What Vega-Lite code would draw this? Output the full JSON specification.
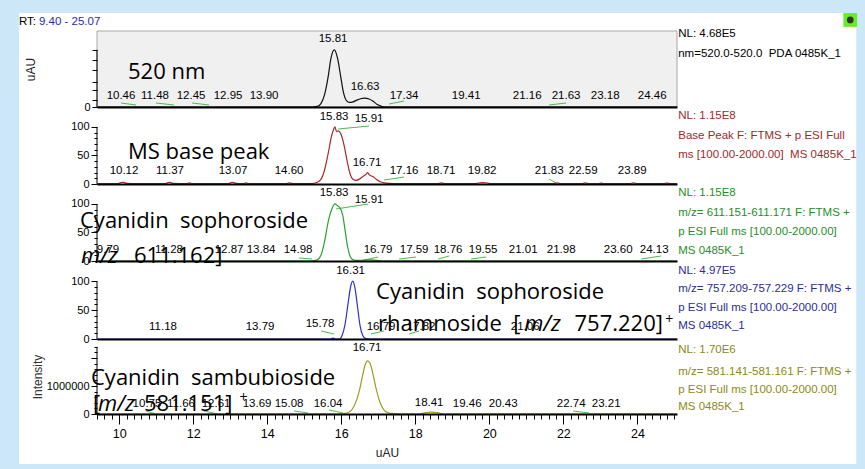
{
"$schema": "https://vega.github.io/schema/vega-lite/v6.json",
"background": "#cce8f8",
"padding": {"left": 18, "top": 12, "right": 30, "bottom": 30},
"spacing": 0,
"bounds": "flush",
"config": {
 "view": {"stroke": null},
 "axis": {"labelFont": "Liberation Sans, Arial, sans-serif", "labelFontSize": 11, "labelColor": "#000", "tickColor": "#000", "titleFont": "Liberation Sans, Arial, sans-serif", "titleFontSize": 12, "titleFontWeight": "normal", "titleColor": "#222", "grid": false, "domain": false, "labelOverlap": false, "zindex": 1, "labelPadding": 2},
 "style": {
  "pk": {"font": "Liberation Sans, Arial, sans-serif", "fontSize": 11.5, "align": "center", "baseline": "middle"},
  "side": {"font": "Liberation Sans, Arial, sans-serif", "fontSize": 11.5, "align": "left", "baseline": "middle"},
  "big": {"font": "Open Sans", "fontSize": 22, "align": "left", "baseline": "alphabetic"},
  "bigi": {"font": "Open Sans", "fontSize": 22, "fontStyle": "italic", "align": "left", "baseline": "alphabetic"},
  "sup": {"font": "Open Sans", "fontSize": 14, "align": "center", "baseline": "middle"}
 }
},
"vconcat": [
 {
  "width": 580, "height": 76,
  "encoding": {
   "x": {"field": "x", "type": "quantitative", "scale": {"domain": [9.4, 25.07], "nice": false, "zero": false}, "axis": {"labels": false, "ticks": false, "domain": true, "domainColor": "#000", "domainWidth": 2, "title": null, "zindex": 2}},
   "y": {"field": "y", "type": "quantitative", "scale": {"domain": [0, 133], "nice": false, "zero": false}, "axis": {"values": [0, 12, 30, 44, 65, 82, 100], "labelExpr": "datum.value === 0 ? '0' : ''", "tickSize": 5, "title": "uAU", "titlePadding": 46, "zindex": 2}}
  },
  "layer": [
   {"data": {"values": [{"x": 7.292, "y": 164.5, "x2": 29.913, "y2": -624.8}]}, "mark": {"type": "rect", "fill": "#ffffff"}, "encoding": {"x2": {"field": "x2"}, "y2": {"field": "y2"}}},
   {"data": {"values": [{"x": 9.4, "y": 0, "x2": 25.07, "y2": 133}]}, "mark": {"type": "rect", "fill": "#f0f0f0", "stroke": "#a8a8a8", "strokeWidth": 1}, "encoding": {"x2": {"field": "x2"}, "y2": {"field": "y2"}}},
   {"data": {"values": [{"x": 9.4, "y": 0, "y2": 100}]}, "mark": {"type": "rule", "color": "#000"}, "encoding": {"y2": {"field": "y2"}}},
   {"data": {"values": [
     {"x": 10.049, "y": 7.0, "x2": 10.454, "y2": 3.5},
     {"x": 10.995, "y": 7.0, "x2": 11.481, "y2": 3.5},
     {"x": 11.968, "y": 7.0, "x2": 12.427, "y2": 3.5},
     {"x": 17.292, "y": 5.25, "x2": 17.697, "y2": 10.5},
     {"x": 21.616, "y": 3.5, "x2": 22.076, "y2": 7.0}]},
    "mark": {"type": "rule", "color": "#4cbb4c", "strokeWidth": 1}, "encoding": {"x2": {"field": "x2"}, "y2": {"field": "y2"}}},
   {"data": {"values": [
     {"x": 9.4, "y": 0}, {"x": 15.2, "y": 0}, {"x": 15.35, "y": 1}, {"x": 15.45, "y": 6}, {"x": 15.55, "y": 22}, {"x": 15.65, "y": 55}, {"x": 15.72, "y": 85}, {"x": 15.81, "y": 100}, {"x": 15.9, "y": 85}, {"x": 15.98, "y": 55}, {"x": 16.06, "y": 25}, {"x": 16.14, "y": 11}, {"x": 16.22, "y": 8}, {"x": 16.32, "y": 9}, {"x": 16.42, "y": 12}, {"x": 16.52, "y": 14.5}, {"x": 16.63, "y": 15.5}, {"x": 16.75, "y": 14}, {"x": 16.86, "y": 10}, {"x": 16.96, "y": 5}, {"x": 17.06, "y": 2}, {"x": 17.16, "y": 0}, {"x": 25.07, "y": 0}]},
    "mark": {"type": "line", "color": "#111111", "strokeWidth": 1.2, "interpolate": "monotone"}, "encoding": {}},
   {"data": {"values": [
     {"x": 10.049, "y": 20, "t": "10.46"}, {"x": 10.968, "y": 20, "t": "11.48"}, {"x": 11.941, "y": 20, "t": "12.45"}, {"x": 12.941, "y": 20, "t": "12.95"}, {"x": 13.914, "y": 20, "t": "13.90"}, {"x": 15.778, "y": 119, "t": "15.81"}, {"x": 16.643, "y": 35, "t": "16.63"}, {"x": 17.697, "y": 20, "t": "17.34"}, {"x": 19.373, "y": 20, "t": "19.41"}, {"x": 21.022, "y": 20, "t": "21.16"}, {"x": 22.073, "y": 20, "t": "21.63"}, {"x": 23.13, "y": 20, "t": "23.18"}, {"x": 24.4, "y": 20, "t": "24.46"}]},
    "mark": {"type": "text", "style": "pk", "fill": "#000"}, "encoding": {"text": {"field": "t"}}},
   {"data": {"values": [
     {"x": 25.103, "y": 127.8, "t": "NL: 4.68E5"}, {"x": 25.103, "y": 92.75, "t": "nm=520.0-520.0\u00a0 PDA 0485K_1"}]},
    "mark": {"type": "text", "style": "side", "fill": "#000"}, "encoding": {"text": {"field": "t"}}},
   {"data": {"values": [{"x": 10.238, "y": 49, "t": "520 nm"}]}, "mark": {"type": "text", "style": "big", "fill": "#000"}, "encoding": {"text": {"field": "t"}}},
   {"data": {"values": [{"x": 7.292, "y": 148.8, "t": "RT:"}]}, "mark": {"type": "text", "style": "side", "fontSize": 11.5, "fill": "#000"}, "encoding": {"text": {"field": "t"}}},
   {"data": {"values": [{"x": 7.832, "y": 148.8, "t": "9.40 - 25.07"}]}, "mark": {"type": "text", "style": "side", "fontSize": 11.5, "fill": "#2a2ab0"}, "encoding": {"text": {"field": "t"}}},
   {"data": {"values": [{"x": 29.751, "y": 152.3}]}, "mark": {"type": "square", "size": 190, "color": "#66ee22", "filled": true, "opacity": 1}, "encoding": {}},
   {"data": {"values": [{"x": 29.751, "y": 152.3}]}, "mark": {"type": "circle", "size": 45, "color": "#333333", "opacity": 1}, "encoding": {}}
  ]
 },
 {
  "width": 580, "height": 77,
  "encoding": {
   "x": {"field": "x", "type": "quantitative", "scale": {"domain": [9.4, 25.07], "nice": false, "zero": false}, "axis": {"labels": false, "ticks": false, "domain": true, "domainColor": "#000", "domainWidth": 2, "title": null, "zindex": 2}},
   "y": {"field": "y", "type": "quantitative", "scale": {"domain": [0, 135], "nice": false, "zero": false}, "axis": {"values": [0, 10, 20, 30, 40, 50, 60, 70, 80, 90, 100], "labelExpr": "datum.value % 50 === 0 ? datum.label : ''", "tickSize": {"condition": {"test": "datum.value % 50 === 0", "value": 6}, "value": 3}, "title": null, "zindex": 2}}
  },
  "layer": [
   {"data": {"values": [{"x": 9.4, "y": 0, "y2": 100}]}, "mark": {"type": "rule", "color": "#000"}, "encoding": {"y2": {"field": "y2"}}},
   {"data": {"values": [
     {"x": 15.914, "y": 96.4, "x2": 16.751, "y2": 101.7},
     {"x": 17.157, "y": 7.0, "x2": 17.697, "y2": 12.3},
     {"x": 21.616, "y": 8.8, "x2": 21.805, "y2": 1.75}]},
    "mark": {"type": "rule", "color": "#4cbb4c", "strokeWidth": 1}, "encoding": {"x2": {"field": "x2"}, "y2": {"field": "y2"}}},
   {"data": {"values": [
     {"x": 9.4, "y": 0.5}, {"x": 9.95, "y": 0.5}, {"x": 10.05, "y": 2.5}, {"x": 10.12, "y": 3}, {"x": 10.2, "y": 1}, {"x": 10.5, "y": 0.5}, {"x": 11.25, "y": 0.5}, {"x": 11.32, "y": 2.5}, {"x": 11.37, "y": 3}, {"x": 11.45, "y": 1}, {"x": 11.82, "y": 0.5}, {"x": 11.9, "y": 1.8}, {"x": 11.97, "y": 0.5}, {"x": 12.95, "y": 0.5}, {"x": 13.02, "y": 2.5}, {"x": 13.07, "y": 3}, {"x": 13.15, "y": 1}, {"x": 13.35, "y": 0.5}, {"x": 13.42, "y": 1.8}, {"x": 13.5, "y": 0.5}, {"x": 14.5, "y": 0.5}, {"x": 14.6, "y": 1.8}, {"x": 14.7, "y": 0.5}, {"x": 15.2, "y": 0.5}, {"x": 15.35, "y": 3}, {"x": 15.45, "y": 8}, {"x": 15.55, "y": 25}, {"x": 15.65, "y": 55}, {"x": 15.74, "y": 85}, {"x": 15.8, "y": 97}, {"x": 15.83, "y": 100}, {"x": 15.87, "y": 92}, {"x": 15.91, "y": 93}, {"x": 15.97, "y": 90}, {"x": 16.03, "y": 80}, {"x": 16.1, "y": 60}, {"x": 16.17, "y": 36}, {"x": 16.24, "y": 17}, {"x": 16.32, "y": 8}, {"x": 16.4, "y": 6.5}, {"x": 16.5, "y": 9}, {"x": 16.6, "y": 14}, {"x": 16.67, "y": 17}, {"x": 16.71, "y": 20}, {"x": 16.76, "y": 16}, {"x": 16.85, "y": 13}, {"x": 16.95, "y": 8}, {"x": 17.05, "y": 4}, {"x": 17.16, "y": 2}, {"x": 17.3, "y": 1}, {"x": 17.5, "y": 0.5}, {"x": 18.6, "y": 0.5}, {"x": 18.71, "y": 1.8}, {"x": 18.8, "y": 0.5}, {"x": 19.6, "y": 0.5}, {"x": 19.7, "y": 1.8}, {"x": 19.82, "y": 2.5}, {"x": 19.95, "y": 1.8}, {"x": 20.05, "y": 0.5}, {"x": 21.7, "y": 0.5}, {"x": 21.83, "y": 1.8}, {"x": 21.95, "y": 0.5}, {"x": 22.5, "y": 0.5}, {"x": 22.59, "y": 1.8}, {"x": 22.7, "y": 0.5}, {"x": 22.95, "y": 0.5}, {"x": 23.02, "y": 1.5}, {"x": 23.1, "y": 0.5}, {"x": 23.8, "y": 0.5}, {"x": 23.89, "y": 2}, {"x": 24.0, "y": 0.5}, {"x": 24.7, "y": 0.5}, {"x": 24.8, "y": 1.5}, {"x": 24.9, "y": 0.5}, {"x": 25.07, "y": 0.5}]},
    "mark": {"type": "line", "color": "#a52a2a", "strokeWidth": 1.2, "interpolate": "monotone"}, "encoding": {}},
   {"data": {"values": [
     {"x": 10.13, "y": 22.8, "t": "10.12"}, {"x": 11.373, "y": 22.8, "t": "11.37"}, {"x": 13.076, "y": 22.8, "t": "13.07"}, {"x": 14.589, "y": 22.8, "t": "14.60"}, {"x": 15.805, "y": 117.5, "t": "15.83"}, {"x": 16.751, "y": 114, "t": "15.91"}, {"x": 16.697, "y": 36.8, "t": "16.71"}, {"x": 17.697, "y": 22.8, "t": "17.16"}, {"x": 18.697, "y": 22.8, "t": "18.71"}, {"x": 19.805, "y": 22.8, "t": "19.82"}, {"x": 21.616, "y": 22.8, "t": "21.83"}, {"x": 22.535, "y": 22.8, "t": "22.59"}, {"x": 23.859, "y": 23.5, "t": "23.89"}]},
    "mark": {"type": "text", "style": "pk", "fill": "#000"}, "encoding": {"text": {"field": "t"}}},
   {"data": {"values": [
     {"x": 25.103, "y": 119.2, "t": "NL: 1.15E8"}, {"x": 25.103, "y": 84.2, "t": "Base Peak F: FTMS + p ESI Full"}, {"x": 25.103, "y": 50.8, "t": "ms [100.00-2000.00]\u00a0 MS 0485K_1"}]},
    "mark": {"type": "text", "style": "side", "fill": "#a02828"}, "encoding": {"text": {"field": "t"}}},
   {"data": {"values": [{"x": 10.238, "y": 43.8, "t": "MS base peak"}]}, "mark": {"type": "text", "style": "big", "fill": "#000"}, "encoding": {"text": {"field": "t"}}}
  ]
 },
 {
  "width": 580, "height": 77,
  "encoding": {
   "x": {"field": "x", "type": "quantitative", "scale": {"domain": [9.4, 25.07], "nice": false, "zero": false}, "axis": {"labels": false, "ticks": false, "domain": true, "domainColor": "#000", "domainWidth": 2, "title": null, "zindex": 2}},
   "y": {"field": "y", "type": "quantitative", "scale": {"domain": [0, 135], "nice": false, "zero": false}, "axis": {"values": [0, 10, 20, 30, 40, 50, 60, 70, 80, 90, 100], "labelExpr": "datum.value % 50 === 0 ? datum.label : ''", "tickSize": {"condition": {"test": "datum.value % 50 === 0", "value": 6}, "value": 3}, "title": null, "zindex": 2}}
  },
  "layer": [
   {"data": {"values": [{"x": 9.4, "y": 0, "y2": 100}]}, "mark": {"type": "rule", "color": "#000"}, "encoding": {"y2": {"field": "y2"}}},
   {"data": {"values": [
     {"x": 15.859, "y": 91.2, "x2": 16.724, "y2": 99.9},
     {"x": 14.859, "y": 5.3, "x2": 15.211, "y2": 3.5},
     {"x": 16.616, "y": 1.75, "x2": 16.995, "y2": 7.0},
     {"x": 17.562, "y": 3.5, "x2": 18.022, "y2": 7.0},
     {"x": 18.616, "y": 3.5, "x2": 18.914, "y2": 8.8},
     {"x": 19.508, "y": 3.5, "x2": 19.914, "y2": 7.0},
     {"x": 24.103, "y": 3.5, "x2": 24.643, "y2": 8.8}]},
    "mark": {"type": "rule", "color": "#4cbb4c", "strokeWidth": 1}, "encoding": {"x2": {"field": "x2"}, "y2": {"field": "y2"}}},
   {"data": {"values": [
     {"x": 9.4, "y": 0}, {"x": 15.2, "y": 0}, {"x": 15.35, "y": 2}, {"x": 15.45, "y": 10}, {"x": 15.55, "y": 35}, {"x": 15.65, "y": 70}, {"x": 15.75, "y": 92}, {"x": 15.83, "y": 100}, {"x": 15.9, "y": 97}, {"x": 15.97, "y": 93}, {"x": 16.04, "y": 80}, {"x": 16.1, "y": 55}, {"x": 16.17, "y": 25}, {"x": 16.24, "y": 8}, {"x": 16.32, "y": 2}, {"x": 16.45, "y": 1}, {"x": 16.6, "y": 1.5}, {"x": 16.79, "y": 2}, {"x": 16.95, "y": 1}, {"x": 17.1, "y": 0}, {"x": 25.07, "y": 0}]},
    "mark": {"type": "line", "color": "#2ea02e", "strokeWidth": 1.2, "interpolate": "monotone"}, "encoding": {}},
   {"data": {"values": [
     {"x": 9.697, "y": 19.3, "t": "9.79"}, {"x": 11.346, "y": 19.3, "t": "11.28"}, {"x": 12.968, "y": 19.3, "t": "12.87"}, {"x": 13.832, "y": 19.3, "t": "13.84"}, {"x": 14.832, "y": 19.3, "t": "14.98"}, {"x": 15.805, "y": 119.2, "t": "15.83"}, {"x": 16.751, "y": 106.9, "t": "15.91"}, {"x": 16.995, "y": 19.3, "t": "16.79"}, {"x": 17.968, "y": 19.3, "t": "17.59"}, {"x": 18.886, "y": 19.3, "t": "18.76"}, {"x": 19.832, "y": 19.3, "t": "19.55"}, {"x": 20.914, "y": 19.3, "t": "21.01"}, {"x": 21.941, "y": 19.3, "t": "21.98"}, {"x": 23.481, "y": 19.3, "t": "23.60"}, {"x": 24.454, "y": 19.3, "t": "24.13"}]},
    "mark": {"type": "text", "style": "pk", "fill": "#000"}, "encoding": {"text": {"field": "t"}}},
   {"data": {"values": [
     {"x": 25.103, "y": 119.2, "t": "NL: 1.15E8"}, {"x": 25.103, "y": 84.2, "t": "m/z= 611.151-611.171 F: FTMS +"}, {"x": 25.103, "y": 50.8, "t": "p ESI Full ms [100.00-2000.00]"}, {"x": 25.103, "y": 17.5, "t": "MS 0485K_1"}]},
    "mark": {"type": "text", "style": "side", "fill": "#1f8f1f"}, "encoding": {"text": {"field": "t"}}},
   {"data": {"values": [{"x": 8.941, "y": 57.9, "t": "Cyanidin\u00a0 sophoroside"}, {"x": 10.4, "y": -3.0, "t": "611.162]"}]}, "mark": {"type": "text", "style": "big", "fill": "#000"}, "encoding": {"text": {"field": "t"}}},
   {"data": {"values": [{"x": 8.968, "y": -3.0, "t": "m/z"}]}, "mark": {"type": "text", "style": "bigi", "fill": "#000"}, "encoding": {"text": {"field": "t"}}}
  ]
 },
 {
  "width": 580, "height": 78,
  "encoding": {
   "x": {"field": "x", "type": "quantitative", "scale": {"domain": [9.4, 25.07], "nice": false, "zero": false}, "axis": {"labels": false, "ticks": false, "domain": true, "domainColor": "#000", "domainWidth": 2, "title": null, "zindex": 2}},
   "y": {"field": "y", "type": "quantitative", "scale": {"domain": [0, 135], "nice": false, "zero": false}, "axis": {"values": [0, 10, 20, 30, 40, 50, 60, 70, 80, 90, 100], "labelExpr": "datum.value % 50 === 0 ? datum.label : ''", "tickSize": {"condition": {"test": "datum.value % 50 === 0", "value": 6}, "value": 3}, "title": null, "zindex": 2}}
  },
  "layer": [
   {"data": {"values": [{"x": 9.4, "y": 0, "y2": 100}]}, "mark": {"type": "rule", "color": "#000"}, "encoding": {"y2": {"field": "y2"}}},
   {"data": {"values": [
     {"x": 15.454, "y": 13.8, "x2": 15.805, "y2": 8.7},
     {"x": 16.805, "y": 8.7, "x2": 17.157, "y2": 13.8},
     {"x": 17.832, "y": 8.7, "x2": 18.103, "y2": 13.8}]},
    "mark": {"type": "rule", "color": "#4cbb4c", "strokeWidth": 1}, "encoding": {"x2": {"field": "x2"}, "y2": {"field": "y2"}}},
   {"data": {"values": [
     {"x": 9.4, "y": 0}, {"x": 15.7, "y": 0}, {"x": 15.78, "y": 1.5}, {"x": 15.84, "y": 0}, {"x": 15.95, "y": 0}, {"x": 16.02, "y": 6}, {"x": 16.1, "y": 25}, {"x": 16.18, "y": 60}, {"x": 16.25, "y": 90}, {"x": 16.31, "y": 100}, {"x": 16.37, "y": 88}, {"x": 16.44, "y": 55}, {"x": 16.51, "y": 22}, {"x": 16.58, "y": 6}, {"x": 16.65, "y": 1}, {"x": 16.75, "y": 0}, {"x": 25.07, "y": 0}]},
    "mark": {"type": "line", "color": "#3030c8", "strokeWidth": 1.2, "interpolate": "monotone"}, "encoding": {}},
   {"data": {"values": [
     {"x": 11.184, "y": 20.8, "t": "11.18"}, {"x": 13.805, "y": 20.8, "t": "13.79"}, {"x": 15.427, "y": 26.0, "t": "15.78"}, {"x": 16.251, "y": 117.7, "t": "16.31"}, {"x": 17.076, "y": 20.8, "t": "16.79"}, {"x": 18.157, "y": 20.8, "t": "17.82"}, {"x": 20.968, "y": 20.8, "t": "21.06"}]},
    "mark": {"type": "text", "style": "pk", "fill": "#000"}, "encoding": {"text": {"field": "t"}}},
   {"data": {"values": [
     {"x": 25.103, "y": 117.7, "t": "NL: 4.97E5"}, {"x": 25.103, "y": 86.5, "t": "m/z= 757.209-757.229 F: FTMS +"}, {"x": 25.103, "y": 53.7, "t": "p ESI Full ms [100.00-2000.00]"}, {"x": 25.103, "y": 22.5, "t": "MS 0485K_1"}]},
    "mark": {"type": "text", "style": "side", "fill": "#2c2c96"}, "encoding": {"text": {"field": "t"}}},
   {"data": {"values": [{"x": 16.941, "y": 69.2, "t": "Cyanidin\u00a0 sophoroside"}, {"x": 16.995, "y": 13.8, "t": "rhamnoside\u00a0 ["}, {"x": 22.3, "y": 13.8, "t": "757.220]"}]}, "mark": {"type": "text", "style": "big", "fill": "#000"}, "encoding": {"text": {"field": "t"}}},
   {"data": {"values": [{"x": 20.94, "y": 13.8, "t": "m/z"}]}, "mark": {"type": "text", "style": "bigi", "fill": "#000"}, "encoding": {"text": {"field": "t"}}},
   {"data": {"values": [{"x": 24.86, "y": 33.7, "t": "+"}]}, "mark": {"type": "text", "style": "sup", "fill": "#000"}, "encoding": {"text": {"field": "t"}}}
  ]
 },
 {
  "width": 580, "height": 75,
  "encoding": {
   "x": {"field": "x", "type": "quantitative", "scale": {"domain": [9.4, 25.07], "nice": false, "zero": false}, "axis": {"tickCount": 80, "labelExpr": "abs(datum.value - round(datum.value/2)*2) < 0.01 ? '' + round(datum.value) : ''", "tickSize": {"condition": {"test": "abs(datum.value - round(datum.value/2)*2) < 0.01", "value": 10}, "value": 5}, "labelFontSize": 12.5, "labelPadding": 3, "labelFlush": false, "domain": true, "domainColor": "#000", "domainWidth": 2, "title": "uAU", "titlePadding": 8, "zindex": 2}},
   "y": {"field": "y", "type": "quantitative", "scale": {"domain": [0, 2680000], "nice": false, "zero": false}, "axis": {"values": [0, 200000, 400000, 600000, 800000, 1000000, 1200000, 1400000, 1600000, 1800000, 2000000, 2200000, 2400000], "labelExpr": "datum.value === 0 || datum.value === 1000000 ? format(datum.value, 'd') : ''", "tickSize": {"condition": {"test": "datum.value % 1000000 === 0", "value": 6}, "value": 3}, "labelFontSize": 11, "title": "Intensity", "titlePadding": 2, "titleColor": "#333", "zindex": 2}}
  },
  "layer": [
   {"data": {"values": [{"x": 9.4, "y": 0, "y2": 2400000}]}, "mark": {"type": "rule", "color": "#000"}, "encoding": {"y2": {"field": "y2"}}},
   {"data": {"values": [
     {"x": 10.724, "y": 107200, "x2": 10.995, "y2": 0},
     {"x": 12.292, "y": 107200, "x2": 12.67, "y2": 0},
     {"x": 14.724, "y": 107200, "x2": 15.103, "y2": 35700},
     {"x": 15.67, "y": 142900, "x2": 16.049, "y2": 35700},
     {"x": 22.265, "y": 107200, "x2": 22.697, "y2": 35700}]},
    "mark": {"type": "rule", "color": "#4cbb4c", "strokeWidth": 1}, "encoding": {"x2": {"field": "x2"}, "y2": {"field": "y2"}}},
   {"data": {"values": [
     {"x": 9.4, "y": 0}, {"x": 16.0, "y": 0}, {"x": 16.1, "y": 20000}, {"x": 16.2, "y": 60000}, {"x": 16.3, "y": 180000}, {"x": 16.4, "y": 450000}, {"x": 16.5, "y": 900000}, {"x": 16.58, "y": 1400000}, {"x": 16.65, "y": 1780000}, {"x": 16.71, "y": 1900000}, {"x": 16.78, "y": 1800000}, {"x": 16.86, "y": 1400000}, {"x": 16.95, "y": 850000}, {"x": 17.05, "y": 400000}, {"x": 17.15, "y": 150000}, {"x": 17.25, "y": 50000}, {"x": 17.4, "y": 10000}, {"x": 17.6, "y": 0}, {"x": 18.1, "y": 0}, {"x": 18.25, "y": 40000}, {"x": 18.41, "y": 70000}, {"x": 18.6, "y": 50000}, {"x": 18.75, "y": 0}, {"x": 25.07, "y": 0}]},
    "mark": {"type": "line", "color": "#a09a22", "strokeWidth": 1.2, "interpolate": "monotone"}, "encoding": {}},
   {"data": {"values": [
     {"x": 10.751, "y": 357300, "t": "10.75"}, {"x": 11.67, "y": 357300, "t": "11.66"}, {"x": 12.616, "y": 357300, "t": "12.61"}, {"x": 13.724, "y": 357300, "t": "13.69"}, {"x": 14.589, "y": 357300, "t": "15.08"}, {"x": 15.643, "y": 357300, "t": "16.04"}, {"x": 16.697, "y": 2358000, "t": "16.71"}, {"x": 18.373, "y": 393000, "t": "18.41"}, {"x": 19.4, "y": 357300, "t": "19.46"}, {"x": 20.373, "y": 357300, "t": "20.43"}, {"x": 22.211, "y": 357300, "t": "22.74"}, {"x": 23.157, "y": 357300, "t": "23.21"}]},
    "mark": {"type": "text", "style": "pk", "fill": "#000"}, "encoding": {"text": {"field": "t"}}},
   {"data": {"values": [
     {"x": 25.103, "y": 2286500, "t": "NL: 1.70E6"}, {"x": 25.103, "y": 1500500, "t": "m/z= 581.141-581.161 F: FTMS +"}, {"x": 25.103, "y": 857400, "t": "p ESI Full ms [100.00-2000.00]"}, {"x": 25.103, "y": 250100, "t": "MS 0485K_1"}]},
    "mark": {"type": "text", "style": "side", "fill": "#8c8a14"}, "encoding": {"text": {"field": "t"}}},
   {"data": {"values": [{"x": 9.238, "y": 1036100, "t": "Cyanidin\u00a0 sambubioside"}, {"x": 9.292, "y": 107200, "t": "["}, {"x": 10.67, "y": 107200, "t": "581.151]"}]}, "mark": {"type": "text", "style": "big", "fill": "#000"}, "encoding": {"text": {"field": "t"}}},
   {"data": {"values": [{"x": 9.427, "y": 107200, "t": "m/z"}]}, "mark": {"type": "text", "style": "bigi", "fill": "#000"}, "encoding": {"text": {"field": "t"}}},
   {"data": {"values": [{"x": 13.36, "y": 571600, "t": "+"}]}, "mark": {"type": "text", "style": "sup", "fill": "#000"}, "encoding": {"text": {"field": "t"}}}
  ]
 }
]
}
